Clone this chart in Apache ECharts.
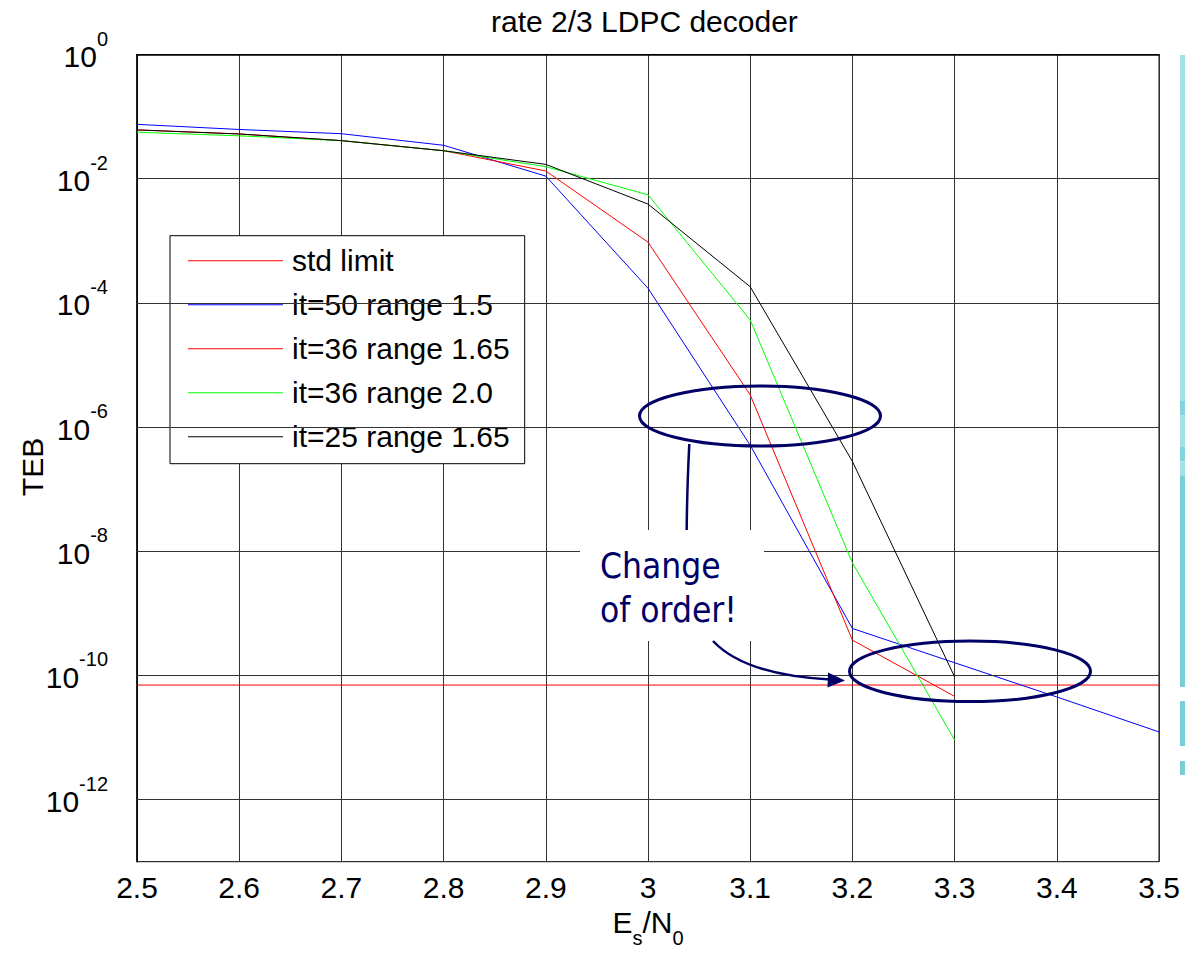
<!DOCTYPE html>
<html>
<head>
<meta charset="utf-8">
<script src="https://cdn.jsdelivr.net/npm/echarts@6/dist/echarts.min.js"></script>
<style>
html,body{margin:0;padding:0;background:#fff;}
#chart{width:1185px;height:954px;}
</style>
</head>
<body>
<div id="chart"></div>
<script>
// ---- data (TEB values) ----
const esn0 = [2.5, 2.6, 2.7, 2.8, 2.9, 3.0, 3.1, 3.2, 3.3];
const esn0Blue = [2.5, 2.6, 2.7, 2.8, 2.9, 3.0, 3.1, 3.2, 3.3, 3.4, 3.5];
const stdLimitX = [2.5, 3.5];
const stdLimit = [7.0e-11, 7.0e-11];
const it50r150 = [7.5e-2, 6.2e-2, 5.3e-2, 3.45e-2, 1.1e-2, 1.72e-4, 5.1e-7, 5.7e-10, 1.6e-10, 4.5e-11, 1.23e-11];
const it36r165 = [6.1e-2, 5.25e-2, 4.1e-2, 2.82e-2, 1.33e-2, 9.5e-4, 3.3e-6, 3.7e-10, 4.6e-11];
const it36r20  = [5.6e-2, 4.9e-2, 4.1e-2, 2.82e-2, 1.56e-2, 5.5e-3, 5.3e-5, 6.5e-9, 9.1e-12];
const it25r165 = [6.1e-2, 5.25e-2, 4.1e-2, 2.82e-2, 1.7e-2, 3.9e-3, 1.82e-4, 2.8e-7, 9.5e-11];
const yGridExponents = [-12, -10, -8, -6, -4, -2];
const seriesNames = ['std limit', 'it=50 range 1.5', 'it=36 range 1.65', 'it=36 range 2.0', 'it=25 range 1.65'];

const FONT = '"Liberation Sans", Arial, sans-serif';
const NAVY = '#000066';

function pairs(xs, ys) { return xs.map((x, i) => [x, Math.log10(ys[i])]); }

const chart = echarts.init(document.getElementById('chart'), null, {renderer: 'svg'});

function lineSeries(name, xs, ys, color, z) {
  return {
    name: name, type: 'line', data: pairs(xs, ys), symbol: 'none', z: z,
    lineStyle: {color: color, width: 1}, itemStyle: {color: color},
    emphasis: {disabled: true}, animation: false
  };
}

const option = {
  animation: false,
  backgroundColor: '#fff',
  title: {
    text: 'rate 2/3 LDPC decoder', left: 491, top: 6, padding: 0,
    textStyle: {fontFamily: FONT, fontSize: 30, fontWeight: 'normal', color: '#000', lineHeight: 30}
  },
  grid: {left: 137, right: 26, top: 54.5, bottom: 92.3, show: true, borderColor: '#000', borderWidth: 1, backgroundColor: '#fff'},
  legend: {
    data: seriesNames, orient: 'vertical', left: 170, top: 235.7,
    padding: [10, 15, 12, 18], itemGap: 14, itemWidth: 95, itemHeight: 1,
    icon: 'rect',
    backgroundColor: '#fff', borderColor: '#000', borderWidth: 1,
    selectedMode: false,
    textStyle: {fontFamily: FONT, fontSize: 30, color: '#000', lineHeight: 30, padding: [0, 0, 0, 4]}
  },
  xAxis: {
    type: 'value', min: 2.5, max: 3.5, interval: 0.1,
    axisLine: {show: true, lineStyle: {color: '#000', width: 1.5}},
    axisTick: {show: false},
    splitLine: {show: true, lineStyle: {color: '#333', width: 1}},
    axisLabel: {fontFamily: FONT, fontSize: 30, color: '#000', margin: 11, lineHeight: 30,
      formatter: v => String(Math.round(v * 10) / 10)},
    name: '{n|E}{sub|s}{n|/N}{sub|0}', nameLocation: 'middle', nameGap: 50,
    nameTextStyle: {
      rich: {
        n: {fontFamily: FONT, fontSize: 30, lineHeight: 30, color: '#000', padding: [0, 0, 10, 0]},
        sub: {fontFamily: FONT, fontSize: 20, lineHeight: 20, color: '#000', padding: [20, 0, 0, 0]}
      }
    }
  },
  yAxis: {
    type: 'value', min: -13, max: 0, interval: 1,
    axisLine: {show: true, lineStyle: {color: '#000', width: 1.5}},
    axisTick: {show: false},
    splitLine: {show: false},
    axisLabel: {
      margin: 29,
      formatter: function (v) {
        const e = Math.round(v);
        if (e % 2 !== 0) return '';
        return '{b|10}{s|' + e + '}';
      },
      rich: {
        b: {fontFamily: FONT, fontSize: 30, lineHeight: 30, color: '#000', padding: [13, 0, 9, 0]},
        s: {fontFamily: FONT, fontSize: 20, lineHeight: 20, color: '#000', padding: [0, 0, 32, 0]}
      }
    }
  },
  series: [
    {
      name: 'gridlines', type: 'line', data: [], symbol: 'none', z: 1, silent: true,
      markLine: {
        silent: true, symbol: ['none', 'none'], label: {show: false}, animation: false,
        lineStyle: {color: '#333', width: 1, type: 'solid'},
        emphasis: {disabled: true},
        data: yGridExponents.map(e => ({yAxis: e}))
      }
    },
    lineSeries(seriesNames[0], stdLimitX, stdLimit, '#ff0000', 3),
    lineSeries(seriesNames[1], esn0Blue, it50r150, '#0000ff', 4),
    lineSeries(seriesNames[2], esn0, it36r165, '#ff0000', 5),
    lineSeries(seriesNames[3], esn0, it36r20, '#00ff00', 6),
    lineSeries(seriesNames[4], esn0, it25r165, '#000000', 7)
  ],
  graphic: [
    {type: 'text', x: 32, y: 467, rotation: Math.PI / 2, z: 100,
      style: {text: 'TEB', fontFamily: FONT, fontSize: 30, fill: '#000', align: 'center', verticalAlign: 'middle'}},
    // annotation
    {type: 'ellipse', z: 100, shape: {cx: 760, cy: 416, rx: 120.5, ry: 30}, style: {fill: 'none', stroke: NAVY, lineWidth: 3}},
    {type: 'ellipse', z: 100, shape: {cx: 970, cy: 671.3, rx: 120.5, ry: 30.3}, style: {fill: 'none', stroke: NAVY, lineWidth: 3}},
    {type: 'bezierCurve', z: 100, shape: {x1: 689.3, y1: 444, cpx1: 687, cpy1: 490, x2: 686.7, y2: 530}, style: {fill: 'none', stroke: NAVY, lineWidth: 2.5}},
    {type: 'rect', z: 100, shape: {x: 580, y: 530, width: 184, height: 111}, style: {fill: '#fff'}},
    {type: 'text', z: 101, x: 600, y: 588,
      style: {text: 'Change\nof order!', fontFamily: '"DejaVu Sans Condensed", "DejaVu Sans", sans-serif', fontSize: 35, lineHeight: 44, fill: NAVY, align: 'left', verticalAlign: 'middle'}},
    {type: 'bezierCurve', z: 100, shape: {x1: 713, y1: 641, cpx1: 745, cpy1: 675, x2: 830, y2: 679.5}, style: {fill: 'none', stroke: NAVY, lineWidth: 2.5}},
    {type: 'polygon', z: 100, shape: {points: [[845, 680.5], [828, 672.5], [827.5, 687.5]]}, style: {fill: NAVY}},
    // teal bars at right edge
    {type: 'rect', z: 100, shape: {x: 1180, y: 55, width: 5, height: 346}, style: {fill: '#a3e0ea'}},
    {type: 'rect', z: 100, shape: {x: 1180, y: 401, width: 5, height: 14.5}, style: {fill: '#82d4de'}},
    {type: 'rect', z: 100, shape: {x: 1180, y: 415.5, width: 5, height: 31.5}, style: {fill: '#a3e0ea'}},
    {type: 'rect', z: 100, shape: {x: 1180, y: 447, width: 5, height: 14.5}, style: {fill: '#82d4de'}},
    {type: 'rect', z: 100, shape: {x: 1180, y: 461.5, width: 5, height: 14.5}, style: {fill: '#a3e0ea'}},
    {type: 'rect', z: 100, shape: {x: 1180, y: 476, width: 5, height: 211}, style: {fill: '#78cfd9'}},
    {type: 'rect', z: 100, shape: {x: 1180, y: 701, width: 5, height: 45}, style: {fill: '#78cfd9'}},
    {type: 'rect', z: 100, shape: {x: 1180, y: 761, width: 5, height: 14}, style: {fill: '#78cfd9'}}
  ]
};
chart.setOption(option);
</script>
</body>
</html>
